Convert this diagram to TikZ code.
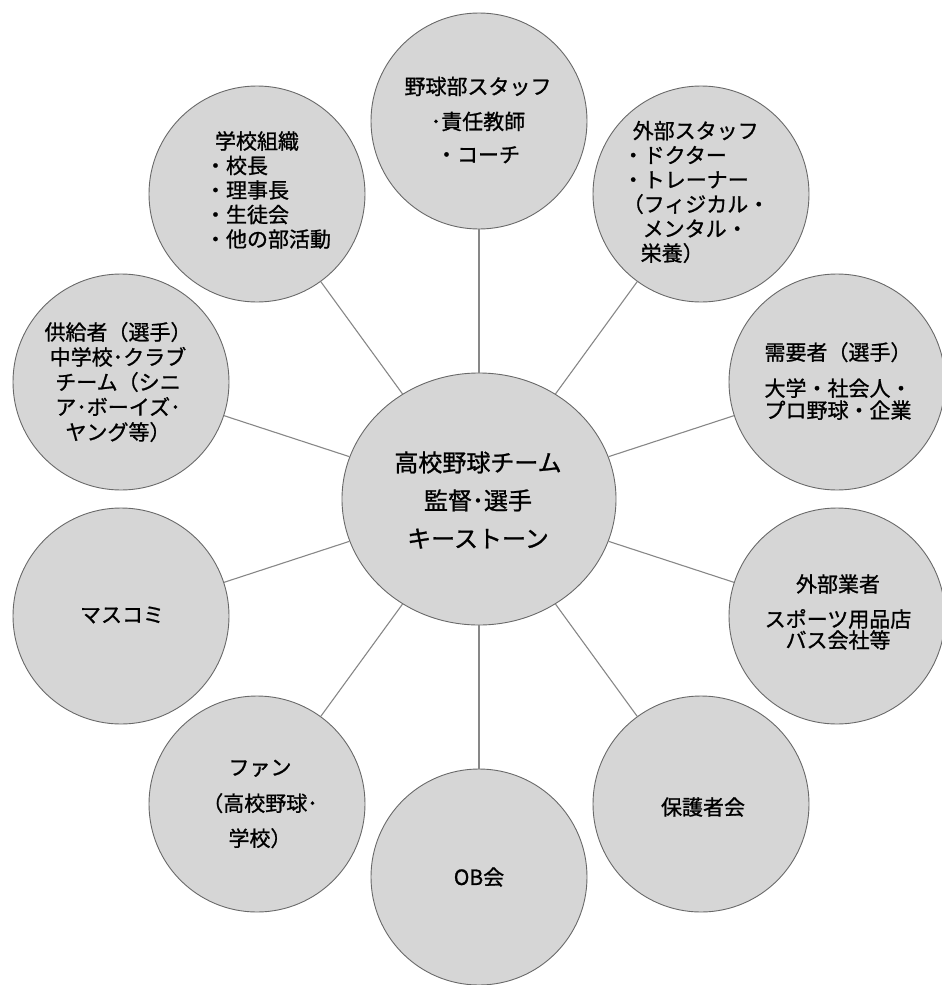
\documentclass[tikz,border=0pt]{standalone}
\usepackage{fontspec}
\setmainfont{Noto Sans CJK JP}[FakeBold=1]
\usetikzlibrary{shapes.geometric}
\definecolor{bubblefill}{RGB}{214,214,214}
\definecolor{rimcol}{RGB}{105,105,105}
\definecolor{spokecol}{RGB}{135,135,135}
\begin{document}
\begin{tikzpicture}[x=1pt,y=-1pt,
  bubble/.style={circle, fill=bubblefill, draw=rimcol, line width=0.9pt, minimum size=216pt, inner sep=0pt},
  hub/.style={ellipse, fill=bubblefill, draw=rimcol, line width=0.9pt, minimum width=274pt, minimum height=252pt, inner sep=0pt},
  txt/.style={inner sep=0pt, align=center, font=\fontsize{21}{24}\selectfont},
  txtl/.style={inner sep=0pt, align=left, font=\fontsize{21}{24.5}\selectfont},
  hubtxt/.style={inner sep=0pt, align=center, font=\fontsize{24}{38}\selectfont},
  spoke/.style={draw=spokecol, line width=1.1pt}]
\useasboundingbox (0,0) rectangle (942,985);

% circles
\node[hub] (hub) at (479,499) {};
\node[bubble] (staff) at (479,121) {};
\node[bubble] (school) at (257,194) {};
\node[bubble] (ext) at (701,194) {};
\node[bubble] (supply) at (121,382) {};
\node[bubble] (demand) at (837,382) {};
\node[bubble] (media) at (121,616) {};
\node[bubble] (vendor) at (837,616) {};
\node[bubble] (fan) at (257,804) {};
\node[bubble] (ob) at (479,877) {};
\node[bubble] (parents) at (701,804) {};

% spokes
\foreach \n in {staff,school,ext,supply,demand,media,vendor,fan,ob,parents}
  \draw[spoke] (hub) -- (\n);

% texts
\node[hubtxt] (hub-t) at (478,500) {高校野球チーム\\監督･選手\\キーストーン};
\node[txt] (staff-t) at (478,120) {野球部スタッフ\\[11pt]･責任教師\\[9pt]・コーチ};
\node[txtl] (school-t) at (268,190) {\hspace*{10pt}学校組織\\・校長\\・理事長\\・生徒会\\・他の部活動};
\node[txtl] (ext-t) at (696,192) {\hspace*{10pt}外部スタッフ\\・ドクター\\・トレーナー\\（フィジカル・\\\hspace*{20pt}メンタル・\\\hspace*{18pt}栄養）};
\node[txt, font=\fontsize{21}{25}\selectfont] (supply-t) at (118,382) {供給者（選手）\\中学校･クラブ\\チーム（シニ\\ア･ボーイズ･\\ヤング等）};
\node[txt] (demand-t) at (838,381) {需要者（選手）\\[12pt]大学・社会人・\\[-2pt]プロ野球・企業};
\node[txt] (media-t) at (122,615) {マスコミ};
\node[txt] (vendor-t) at (838,612) {外部業者\\[11pt]スポーツ用品店\\[-3pt]バス会社等};
\node[txt] (fan-t) at (260,804) {ファン\\[12pt]（高校野球･\\[11pt]学校）};
\node[txt] (ob-t) at (479,877) {OB会};
\node[txt] (parents-t) at (703,807) {保護者会};
\end{tikzpicture}
\end{document}
